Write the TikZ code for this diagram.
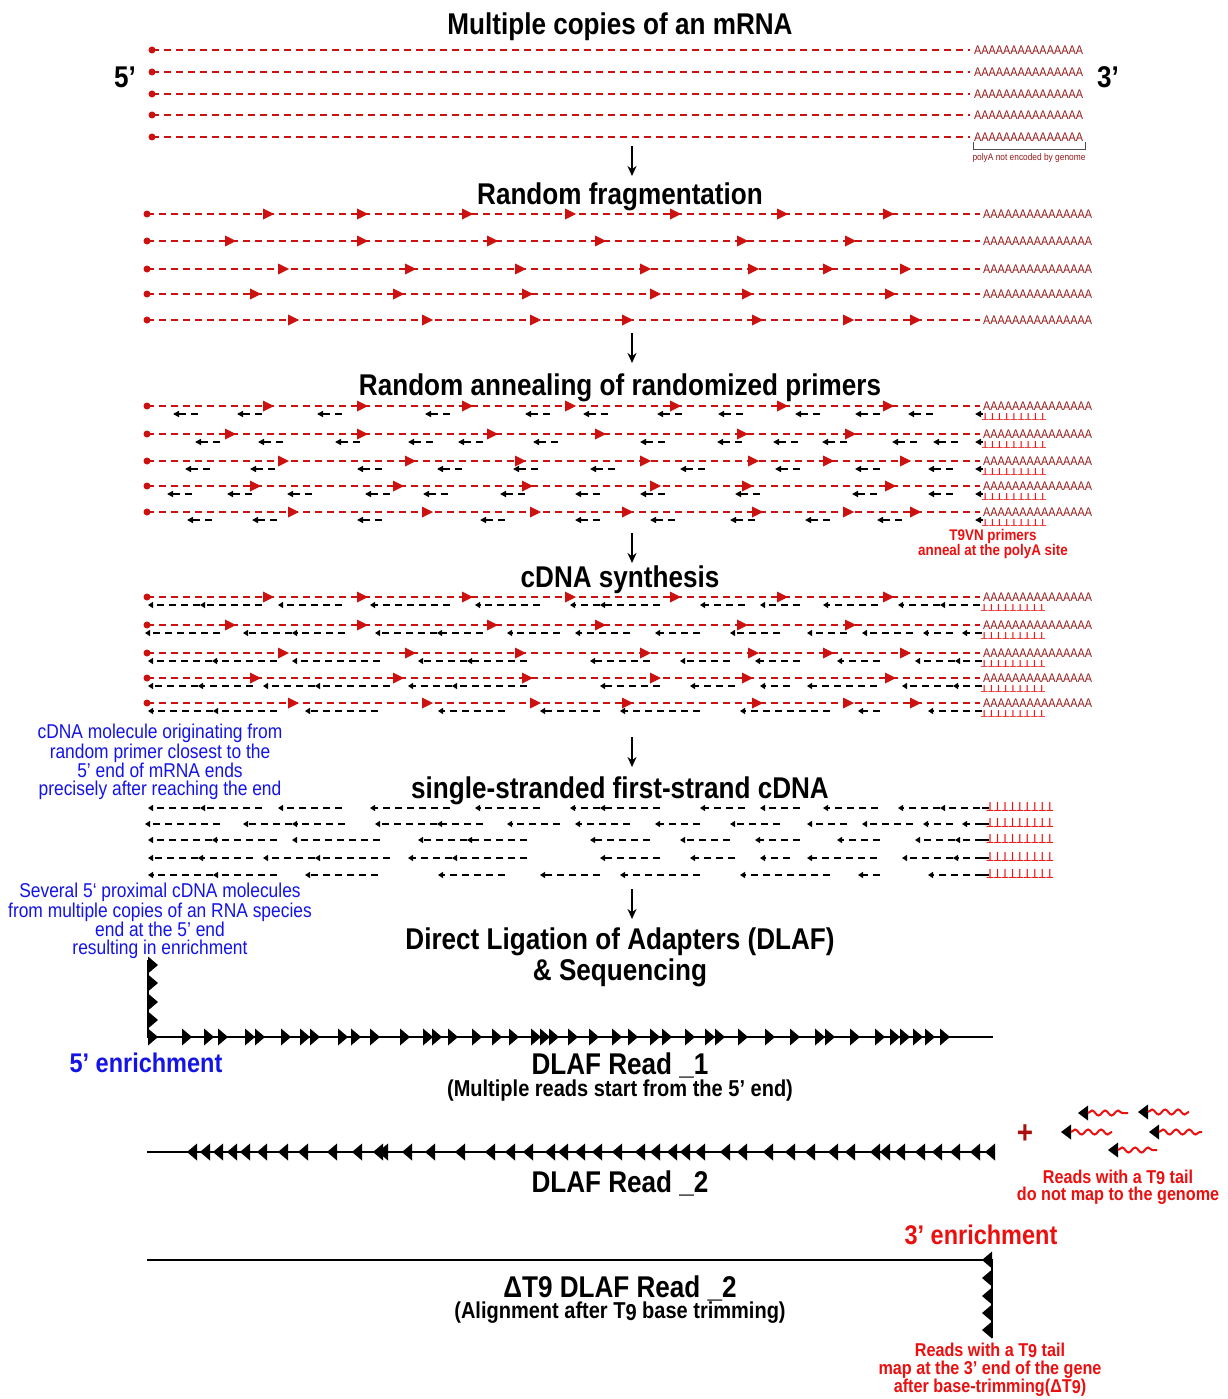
\documentclass[tikz,border=0pt]{standalone}
\usepackage{fontspec}
\setmainfont[FakeStretch=0.87]{Liberation Sans}
\usepackage{tikz}
\usetikzlibrary{positioning,arrows.meta,decorations.pathmorphing}

\definecolor{mrna}{RGB}{204,17,17}
\definecolor{polya}{RGB}{150,25,25}
\definecolor{tred}{RGB}{235,15,15}
\definecolor{note}{RGB}{20,20,230}

\newcommand\tn{T\raisebox{-.1ex}{9}}

% fragment arrows (same fragments in steps 2-4)
\newcommand\fA{268,362,467,570,675,782,888}
\newcommand\fB{230,362,492,600,742,850}
\newcommand\fC{283,410,520,645,753,828,905}
\newcommand\fD{255,398,527,655,747,890}
\newcommand\fE{293,427,535,627,757,848,915}

% cDNA pieces, left end/right end
\newcommand\cA{148/200,200/262,278/342,370/450,475/540,570/600,600/660,700/745,760/800,823/878,898/940,940/980}
\newcommand\cB{145/220,243/292,292/345,375/437,437/483,507/560,575/630,655/700,730/780,807/847,862/913,923/953,962/982}
\newcommand\cC{148/212,212/277,292/380,418/467,467/527,590/650,680/730,755/800,837/880,915/955,955/982}
\newcommand\cD{148/198,198/253,263/315,315/390,408/452,452/527,600/660,690/735,760/790,807/877,902/953,953/982}
\newcommand\cE{148/213,213/277,305/378,438/505,540/600,620/700,740/830,858/880,928/982}

\newcommand\mrnarow[2]{%
  \fill[mrna] (147,#1) circle (3.5);
  \draw[rna] (147,#1) -- (980,#1);
  \foreach \x in #2 \pic[mrna] at (\x,#1) {fwd};
  \node[polyA,name=pA-#1] at (983,#1) {AAAAAAAAAAAAAAA};
}
\newcommand\primers[2]{%
  \foreach \x in {#2}
    \draw[cdna,dash pattern=on 7pt off 5pt on 30pt off 0pt,-{Triangle[length=6pt,width=6pt]}] ({\x+25},#1) -- (\x,#1);
  \draw[cdna,-{Triangle[length=6pt,width=6pt]}] (983,#1) -- (975,#1);
  \node[tails,name=T-#1] at (1014,#1+2.5) {TTTTTTTTT};
}
\newcommand\cdnarow[2]{%
  \foreach \a/\b in #2
    \draw[cdna,-{Triangle[length=5pt,width=6pt]}] (\b,#1) -- (\a,#1);
}

\begin{document}
\begin{tikzpicture}[x=1pt,y=-1pt,
  title/.style={font=\bfseries\fontsize{30}{31}\selectfont,align=center,inner sep=0pt},
  sub/.style={font=\bfseries\fontsize{23}{24}\selectfont,inner sep=0pt},
  bluenote/.style={text=note,align=center,inner sep=0pt,font=\fontsize{20}{18}\selectfont},
  rednote/.style={text=tred,align=center,inner sep=0pt,font=\bfseries\fontsize{18.6}{17.5}\selectfont},
  polyA/.style={text=polya,inner sep=0pt,anchor=west,font=\fontsize{12.5}{13}\selectfont},
  tails/.style={text=tred,inner sep=0pt,rotate=180,xscale=1.35,font=\fontsize{10}{10}\selectfont},
  rna/.style={mrna,line width=1.8pt,dash pattern=on 7pt off 5pt},
  cdna/.style={black,line width=1.6pt,dash pattern=on 7pt off 5pt},
  read/.style={black,line width=1.8pt},
  down/.style={black,line width=1.8pt,-{Stealth[length=10pt,width=9pt]}},
  fwd/.pic={\fill (-5,-5.5) -- (6,0) -- (-5,5.5) -- cycle;},
  rdf/.pic={\fill (-5,-8.5) -- (5,0) -- (-5,8.5) -- cycle;},
  rdr/.pic={\fill (5,-8.5) -- (-5,0) -- (5,8.5) -- cycle;}]
\path[use as bounding box,fill=white] (0,0) rectangle (1227,1399);

% 1: mRNA copies
\node[title] (t1) at (620,27) {Multiple copies of an mRNA};
\node[title] (five) at (125,77) {5’};
\node[title] (three) at (1108,77) {3’};
\foreach \y in {50,72,94,115,137} {
  \fill[mrna] (152,\y) circle (3.5);
  \draw[rna] (152,\y) -- (970,\y);
  \node[polyA,name=A0-\y] at (974,\y) {AAAAAAAAAAAAAAA};
}
\draw[gray!60!black,line width=0.8pt] (973,142) -- (973,149) -- (1085,149) -- (1085,142);
\node[text=polya,font=\fontsize{9.6}{10}\selectfont,inner sep=0pt] (nogen) at (1029,158) {polyA not encoded by genome};
\coordinate (a1) at (632,146);
\draw[down] (a1) -- ++(0,30);

% 2: fragmentation
\node[title] (t2) at (620,197) {Random fragmentation};
\mrnarow{214}{\fA}
\mrnarow{241}{\fB}
\mrnarow{269}{\fC}
\mrnarow{294}{\fD}
\mrnarow{320}{\fE}
\coordinate (a2) at (632,333);
\draw[down] (a2) -- ++(0,30);

% 3: primers
\node[title] (t3) at (620,388) {Random annealing of randomized primers};
\mrnarow{406}{\fA}
\mrnarow{434}{\fB}
\mrnarow{461}{\fC}
\mrnarow{486}{\fD}
\mrnarow{512}{\fE}
\primers{414}{173,237,317,425,525,583,657,718,795,855,908}
\primers{442}{195,258,335,408,458,533,640,717,773,822,892,933}
\primers{469}{185,250,357,437,513,590,680,775,855,928}
\primers{494}{167,227,287,365,423,500,575,640,735,852,928}
\primers{520}{187,252,357,480,575,650,730,805,877}
\node[rednote,font=\bfseries\fontsize{15.4}{14}\selectfont] (t9vn) at (993,544) {T9VN primers\\anneal at the polyA site};
\coordinate (a3) at (632,533);
\draw[down] (a3) -- ++(0,30);

% 4: cDNA synthesis
\node[title] (t4) at (620,580) {cDNA synthesis};
\mrnarow{597}{\fA}
\mrnarow{625}{\fB}
\mrnarow{653}{\fC}
\mrnarow{678}{\fD}
\mrnarow{703}{\fE}
\cdnarow{605}{\cA}
\cdnarow{633}{\cB}
\cdnarow{661}{\cC}
\cdnarow{686}{\cD}
\cdnarow{711}{\cE}
\foreach \y in {605,633,661,686,711}
  \node[tails,name=T4-\y] at (1013,\y+2.5) {TTTTTTTTT};
\node[bluenote] (n1) at (160,762) {cDNA molecule originating from\\random primer closest to the\\5’ end of mRNA ends\\precisely after reaching the end};
\coordinate (a4) at (632,737);
\draw[down] (a4) -- ++(0,30);

% 5: first strand
\node[title] (t5) at (620,791) {single-stranded first-strand cDNA};
\cdnarow{808}{\cA}
\cdnarow{824}{\cB}
\cdnarow{840}{\cC}
\cdnarow{858}{\cD}
\cdnarow{875}{\cE}
\foreach \y in {808,824,840,858,875} {
  \draw[cdna] (982,\y) -- (992,\y);
  \node[tails,xscale=0.8,font=\fontsize{13}{13}\selectfont,name=T5-\y] at (1020,\y-1) {TTTTTTTTT};
}
\node[bluenote] (n2) at (160,921) {Several 5‘ proximal cDNA molecules\\from multiple copies of an RNA species\\end at the 5’ end\\resulting in enrichment};
\coordinate (a5) at (632,889);
\draw[down] (a5) -- ++(0,30);

% 6: DLAF reads
\node[title,text depth=0pt] (t6) at (620,954) {Direct Ligation of Adapters (DLAF)\\\& Sequencing};

\draw[read] (148,960) -- (148,1037) -- (993,1037);
\foreach \y in {965,983,1002,1020} \pic at (153,\y) {rdf};
\foreach \x in {153,187,209,223,250,260,286,305,315,343,356,375,405,428,437,453,477,497,514,536,545,554,573,594,617,633,655,667,690,710,720,743,770,795,820,830,855,880,895,905,918,930,945}
  \pic at (\x,1037) {rdf};
\node[font=\bfseries\fontsize{27}{28}\selectfont,text=note,inner sep=0pt] (e5) at (146,1063) {5’ enrichment};
\node[title] (r1) at (620,1065) {DLAF Read \_1};
\node[sub] (r1s) at (620,1091) {(Multiple reads start from the 5’ end)};

\draw[read] (147,1152) -- (995,1152);
\foreach \x in {192,205,218,232,245,262,283,303,332,357,378,383,407,430,460,490,510,528,550,563,580,597,617,640,655,672,685,700,725,742,768,790,810,833,850,875,885,900,920,937,955,975,990}
  \pic at (\x,1152) {rdr};
\node[title] (r2) at (620,1183) {DLAF Read \_2};
\node[font=\bfseries\fontsize{32}{32}\selectfont,text=mrna!85!black,inner sep=0pt] (plus) at (1025,1134) {+};
\foreach \x/\y/\e in {1078/1113/1128,1138/1112/1189,1061/1132/1112,1149/1132/1202,1108/1150/1157} {
  \fill (\x,\y) -- (\x+10,{\y-7.5}) -- (\x+10,{\y+7.5}) -- cycle;
  \draw[tred,line width=2pt,decorate,decoration={snake,segment length=13pt,amplitude=2.5pt}] (\x+10,\y) -- (\e,\y);
}
\node[rednote] (nomap) at (1118,1187) {Reads with a \tn\ tail\\do not map to the genome};

\node[font=\bfseries\fontsize{27}{28}\selectfont,text=tred,inner sep=0pt] (e3) at (981,1235) {3’ enrichment};
\draw[read] (147,1260) -- (992,1260) -- (992,1338);
\foreach \y in {1260,1278,1296,1313,1330} \pic at (987,\y) {rdr};
\node[title] (r3) at (620,1288) {ΔT9 DLAF Read \_2};
\node[sub] (r3s) at (620,1313) {(Alignment after \tn\ base trimming)};
\node[rednote,font=\bfseries\fontsize{18.6}{18}\selectfont] (mapped) at (990,1370) {Reads with a \tn\ tail\\map at the 3’ end of the gene\\after base-trimming(Δ\tn)};
\end{tikzpicture}
\end{document}
